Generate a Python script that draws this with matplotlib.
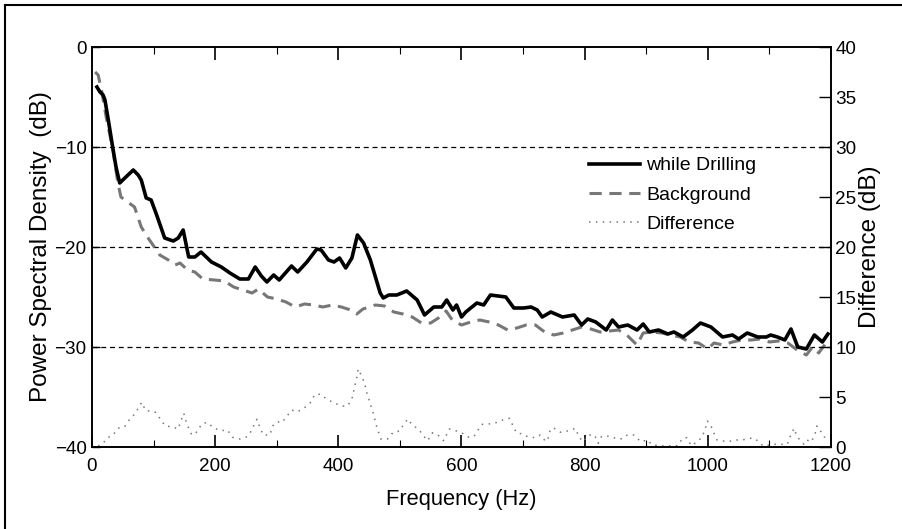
import matplotlib
matplotlib.use("Agg")
import matplotlib.pyplot as plt
from matplotlib import font_manager
from matplotlib.lines import Line2D

names = {f.name for f in font_manager.fontManager.ttflist}
if 'Liberation Sans Narrow' in names:
    plt.rcParams['font.family'] = ['Liberation Sans Narrow', 'DejaVu Sans']
    k = 1.0
else:
    plt.rcParams['font.family'] = ['Liberation Sans', 'DejaVu Sans']
    k = 0.85

# while drilling (Hz, dB)
drill_f = [8, 13, 18, 21, 27, 33, 39, 45, 55, 67, 75, 80, 88, 96, 105, 118, 132, 140, 148, 157,
           167, 177, 194, 210, 224, 240, 254, 265, 275, 284, 295, 304, 314, 324, 334, 349, 365, 372,
           384, 393, 402, 412, 422, 431, 441, 452, 468, 473, 482, 495, 511, 528, 540, 555, 568, 576,
           586, 592, 600, 607, 625, 636, 647, 672, 685, 701, 713, 723, 731, 745, 764, 783, 795, 805,
           818, 835, 845, 855, 870, 885, 895, 905, 920, 935, 945, 960, 975, 988, 1005, 1024, 1040,
           1050, 1064, 1081, 1095, 1102, 1113, 1125, 1135, 1146, 1160, 1173, 1186, 1195]
drill_db = [-4.0, -4.5, -4.8, -5.3, -7.5, -9.8, -12.0, -13.6, -13.0, -12.3, -12.8, -13.3, -15.1,
            -15.3, -16.8, -19.1, -19.4, -19.1, -18.3, -21.0, -21.0, -20.5, -21.5, -22.0, -22.6,
            -23.2, -23.2, -22.0, -22.9, -23.5, -22.8, -23.3, -22.6, -21.9, -22.5, -21.5, -20.2,
            -20.3, -21.3, -21.5, -21.1, -22.1, -21.1, -18.8, -19.6, -21.3, -24.6, -25.1, -24.8,
            -24.8, -24.4, -25.3, -26.8, -26.0, -26.0, -25.3, -26.3, -25.8, -27.0, -26.5, -25.6,
            -25.8, -24.8, -25.0, -26.1, -26.1, -26.0, -26.3, -27.0, -26.5, -27.0, -26.8, -27.8,
            -27.2, -27.5, -28.3, -27.3, -28.0, -27.8, -28.3, -27.7, -28.5, -28.3, -28.7, -28.5,
            -29.0, -28.3, -27.6, -28.0, -29.0, -28.8, -29.2, -28.6, -29.0, -29.0, -28.8, -29.0,
            -29.3, -28.2, -30.0, -30.2, -28.8, -29.5, -28.7]

# background (Hz, dB)
back_f = [5, 10, 16, 23, 34, 42, 47, 58, 69, 80, 90, 99, 110, 124, 135, 143, 155, 167, 180, 199,
          215, 230, 245, 260, 270, 285, 300, 315, 330, 345, 360, 375, 390, 405, 420, 430, 440, 460,
          475, 490, 505, 520, 535, 550, 565, 575, 585, 600, 615, 630, 645, 660, 675, 690, 705, 720,
          735, 750, 765, 780, 795, 810, 825, 840, 855, 870, 885, 895, 910, 925, 940, 955, 970, 985,
          1000, 1010, 1025, 1040, 1055, 1070, 1085, 1100, 1115, 1130, 1145, 1160, 1170, 1180, 1192]
back_db = [-2.5, -2.8, -4.5, -7.0, -10.3, -13.6, -15.0, -15.5, -16.0, -18.0, -19.0, -19.8, -20.8,
           -21.3, -21.8, -21.6, -22.3, -22.5, -23.2, -23.3, -23.4, -24.0, -24.3, -24.6, -24.2,
           -25.0, -25.2, -25.5, -26.0, -25.7, -25.8, -26.0, -25.8, -26.0, -26.3, -26.7, -26.2,
           -25.8, -25.9, -26.5, -26.7, -27.0, -27.6, -27.6, -27.0, -26.4, -27.3, -27.8, -27.5,
           -27.3, -27.5, -27.8, -28.3, -28.1, -27.8, -27.8, -28.5, -28.8, -28.6, -28.3, -28.0,
           -28.2, -28.5, -28.4, -28.3, -28.9, -29.8, -28.6, -28.5, -28.6, -28.8, -29.0, -29.5,
           -29.6, -30.2, -29.6, -29.8, -29.5, -29.3, -29.3, -29.2, -29.5, -29.4, -29.6, -30.3,
           -30.8, -30.0, -30.6, -29.6]

# difference (Hz, dB) on right axis
diff_f = [10, 18, 25, 34, 42, 53, 61, 69, 76, 81, 87, 95, 103, 111, 119, 130, 140, 144, 149, 152,
          157, 162, 171, 178, 187, 197, 209, 220, 228, 240, 252, 260, 265, 268, 272, 278, 289, 293,
          301, 308, 316, 324, 334, 346, 355, 362, 371, 381, 394, 407, 415, 422, 425, 428, 431, 432,
          438, 443, 446, 450, 454, 458, 461, 465, 469, 480, 489, 500, 506, 513, 520, 530, 538, 545,
          553, 563, 571, 580, 592, 600, 610, 620, 628, 634, 644, 655, 667, 678, 683, 689, 701, 707,
          720, 728, 737, 741, 744, 749, 761, 774, 785, 790, 797, 807, 816, 822, 827, 834, 842, 855,
          863, 869, 880, 891, 902, 910, 930, 951, 959, 966, 973, 983, 991, 996, 999, 1004, 1010,
          1015, 1032, 1045, 1056, 1067, 1076, 1090, 1107, 1129, 1134, 1140, 1145, 1156, 1161, 1168,
          1174, 1177, 1183, 1190]
diff_db = [0.1, 0.37, 0.93, 1.17, 1.87, 2.03, 2.77, 3.27, 3.97, 4.47, 3.63, 3.6, 3.47, 2.8, 2.1,
           2.03, 1.8, 2.53, 3.37, 2.7, 1.87, 1.2, 1.53, 2.3, 2.47, 1.93, 1.63, 1.7, 0.97, 0.8, 1.03,
           1.7, 2.53, 2.77, 2.03, 1.2, 1.2, 2.1, 2.53, 2.43, 3.03, 3.7, 3.53, 3.97, 4.47, 5.27, 5.27,
           4.8, 4.37, 4.1, 4.1, 4.8, 5.6, 6.47, 7.2, 7.8, 7.1, 6.27, 5.47, 4.7, 3.93, 3.13, 2.3,
           1.53, 0.8, 0.8, 1.47, 1.6, 2.27, 2.8, 2.2, 1.8, 1.13, 0.63, 1.43, 1.13, 0.63, 1.8, 1.6,
           1.43, 1.0, 1.03, 1.8, 2.27, 2.3, 2.4, 2.7, 2.87, 2.2, 1.43, 1.27, 1.03, 0.93, 1.2, 0.53,
           0.93, 1.7, 1.93, 1.47, 1.63, 1.87, 1.1, 0.53, 1.2, 1.2, 0.37, 1.03, 1.13, 1.03, 0.77,
           0.87, 1.2, 1.2, 0.53, 0.7, 0.2, 0.1, 0.13, 0.87, 0.93, 0.13, 0.53, 1.03, 1.87, 2.6, 2.27,
           1.37, 0.7, 0.53, 0.7, 0.7, 0.87, 0.87, 0.1, 0.27, 0.27, 1.1, 1.87, 1.03, 0.27, 0.7, 0.5,
           1.27, 2.1, 1.6, 0.93]

fig = plt.figure(figsize=(9.03, 5.29), dpi=100)
ax = fig.add_axes([92 / 903, 1 - 447 / 529, 739 / 903, 400 / 529])
ax2 = ax.twinx()

l1, = ax.plot(drill_f, drill_db, color='black', lw=2.6, label='while Drilling', zorder=3)
l2, = ax.plot(back_f, back_db, color='#777777', lw=2.2, ls=(0, (4, 2.5)), label='Background', zorder=2)
l3, = ax2.plot(diff_f, diff_db, color='#777777', lw=1.1, ls=(0, (1, 3.5)), label='Difference')

for yv in [-10, -20, -30]:
    ax.axhline(yv, color='black', lw=0.9, ls=(0, (4, 3)), zorder=1)

ax.set_xlim(0, 1200)
ax.set_ylim(-40, 0)
ax2.set_ylim(0, 40)
ax.set_xticks(range(0, 1201, 200))
ax.set_xticks(range(100, 1200, 200), minor=True)
ax.set_yticks([0, -10, -20, -30, -40])
ax2.set_yticks(range(0, 41, 5))

tsize = 16 * k
ax.tick_params(axis='x', which='major', direction='in', length=9, width=1.2, top=True, labelsize=tsize, pad=8)
ax.tick_params(axis='x', which='minor', direction='in', length=5, width=0.8, top=True)
ax.tick_params(axis='y', direction='in', length=6, width=1, labelsize=tsize, pad=4)
ax2.tick_params(axis='y', direction='in', length=9, width=1, labelsize=tsize, pad=3)

for a in (ax, ax2):
    for s in a.spines.values():
        s.set_linewidth(1.2)

ax.set_xlabel('Frequency (Hz)', fontsize=18.5 * k, labelpad=10)
ax.set_ylabel('Power Spectral Density  (dB)', fontsize=20.5 * k, labelpad=2)
ax2.set_ylabel('Difference (dB)', fontsize=20.5 * k, labelpad=2)

ax.legend(handles=[l1, l2, l3], loc='upper left', bbox_to_anchor=(0.66, 0.75),
          frameon=False, fontsize=16.5 * k, handlelength=2.6, handletextpad=0.3,
          labelspacing=0.6, borderpad=0)

# outer frame lines of the scanned figure
fig.add_artist(Line2D([5 / 903, 1], [1 - 5 / 529, 1 - 5 / 529], color='black', lw=1.5))
fig.add_artist(Line2D([5 / 903, 5 / 903], [0, 1 - 5 / 529], color='black', lw=1.5))

fig.savefig('out.png', dpi=100)
